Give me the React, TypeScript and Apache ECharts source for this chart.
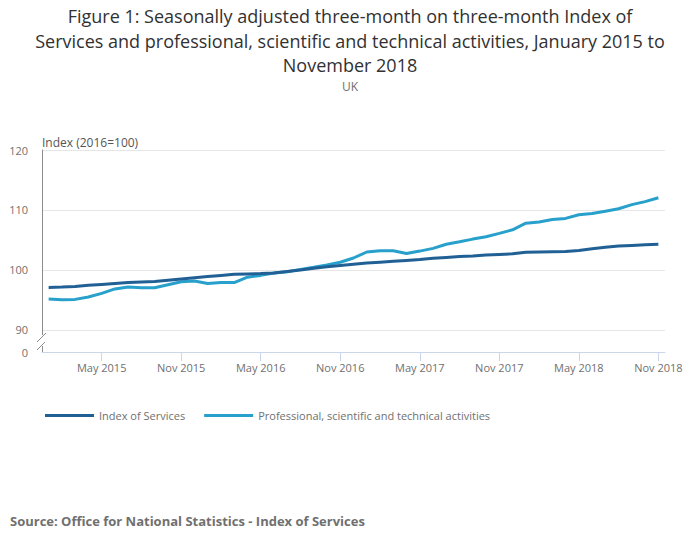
import React, { useEffect, useRef } from "react";
import * as echarts from "echarts";

const MONTHS = ["Jan", "Feb", "Mar", "Apr", "May", "Jun", "Jul", "Aug", "Sep", "Oct", "Nov", "Dec"];
const categories: string[] = [];
for (let y = 2015; y <= 2018; y++) {
  for (let m = 0; m < 12; m++) {
    if (y === 2018 && m > 10) break;
    categories.push(`${MONTHS[m]} ${y}`);
  }
}

const xTickLabels = ["May 2015", "Nov 2015", "May 2016", "Nov 2016", "May 2017", "Nov 2017", "May 2018", "Nov 2018"];

const indexOfServices = [
  97.1, 97.15, 97.25, 97.45, 97.6, 97.75, 97.9, 98.0, 98.1, 98.3, 98.5, 98.7,
  98.9, 99.1, 99.3, 99.35, 99.4, 99.5, 99.75, 100.0, 100.3, 100.55, 100.75, 100.95,
  101.15, 101.3, 101.45, 101.6, 101.75, 101.95, 102.1, 102.25, 102.35, 102.5, 102.6, 102.7,
  102.95, 103.0, 103.05, 103.1, 103.25, 103.55, 103.8, 104.0, 104.1, 104.2, 104.3,
];

const professional = [
  95.15, 95.05, 95.1, 95.5, 96.1, 96.85, 97.15, 97.05, 97.05, 97.55, 98.05, 98.15,
  97.75, 97.9, 97.9, 98.8, 99.1, 99.5, 99.7, 100.1, 100.45, 100.85, 101.3, 102.0,
  103.0, 103.2, 103.2, 102.75, 103.15, 103.6, 104.3, 104.7, 105.15, 105.55, 106.1, 106.7,
  107.8, 108.0, 108.4, 108.6, 109.2, 109.4, 109.8, 110.2, 110.9, 111.4, 112.05,
];

const seriesNames = ["Index of Services", "Professional, scientific and technical activities"];
const seriesColors = ["#206095", "#27a0cc"];

const TITLE_LINES = [
  "Figure 1: Seasonally adjusted three-month on three-month Index of",
  "Services and professional, scientific and technical activities, January 2015 to",
  "November 2018",
];
const SUBTITLE = "UK";
const SOURCE = "Source: Office for National Statistics - Index of Services";
const Y_NAME = "Index (2016=100)";
const Y_MIN = 86.333;
const Y_MAX = 120;

const FONT = "'Open Sans', sans-serif";

export default function App() {
  const ref = useRef<HTMLDivElement>(null);

  useEffect(() => {
    if (!ref.current) return;
    const chart = echarts.init(ref.current, undefined, { renderer: "svg" });
    const isTick = (_i: number, v: string) => xTickLabels.includes(v);
    const titleTops = [2, 26.5, 51];
    chart.setOption({
      animation: false,
      textStyle: { fontFamily: FONT },
      title: [
        ...TITLE_LINES.map((t, i) => ({
          text: t,
          left: "center",
          top: titleTops[i],
          textStyle: { fontSize: 18, fontWeight: "normal", color: "#323132", fontFamily: FONT },
        })),
        {
          text: SUBTITLE,
          left: "center",
          top: 75,
          textStyle: { fontSize: 12, fontWeight: "normal", color: "#707070", fontFamily: FONT },
        },
        {
          text: SOURCE,
          left: 5,
          top: 509,
          textStyle: { fontSize: 13, fontWeight: "bold", color: "#707070", fontFamily: FONT },
        },
      ],
      legend: {
        left: 40,
        top: 405,
        icon: "rect",
        itemWidth: 49,
        itemHeight: 3,
        itemGap: 19,
        textStyle: { fontSize: 11, color: "#707070", fontFamily: FONT },
        data: seriesNames,
      },
      grid: { left: 42, right: 35, top: 150, bottom: 197, containLabel: false },
      xAxis: {
        type: "category",
        data: categories,
        boundaryGap: true,
        axisLine: { show: true, lineStyle: { color: "#ccd6eb", width: 1 } },
        axisTick: { show: true, alignWithLabel: true, interval: isTick, length: 9, lineStyle: { color: "#ccd6eb" } },
        axisLabel: { interval: isTick, color: "#707070", fontSize: 11, margin: 10, fontFamily: FONT },
        splitLine: { show: false },
      },
      yAxis: {
        type: "value",
        min: Y_MIN,
        max: Y_MAX,
        splitNumber: 3,
        name: Y_NAME,
        nameLocation: "end",
        nameGap: 8,
        nameTextStyle: { align: "left", verticalAlign: "middle", color: "#555", fontSize: 12, fontFamily: FONT },
        axisLine: { show: true, lineStyle: { color: "#8c8c8c", width: 1 } },
        axisTick: { show: false },
        axisLabel: {
          color: "#707070",
          fontSize: 11,
          margin: 14,
          fontFamily: FONT,
          formatter: (v: number) => (v < 89 ? "0" : String(Math.round(v))),
        },
        splitLine: { show: true, showMinLine: false, lineStyle: { color: "#e6e6e6", width: 1 } },
      },
      series: [
        {
          name: seriesNames[0],
          type: "line",
          data: indexOfServices,
          showSymbol: false,
          symbol: "none",
          lineStyle: { color: seriesColors[0], width: 3 },
          itemStyle: { color: seriesColors[0] },
          z: 3,
        },
        {
          name: seriesNames[1],
          type: "line",
          data: professional,
          showSymbol: false,
          symbol: "none",
          lineStyle: { color: seriesColors[1], width: 3 },
          itemStyle: { color: seriesColors[1] },
          z: 2,
        },
      ],
      graphic: [
        { type: "rect", z: 100, shape: { x: 38, y: 335, width: 8, height: 11 }, style: { fill: "#fff" } },
        { type: "line", z: 101, shape: { x1: 37, y1: 342, x2: 46, y2: 333 }, style: { stroke: "#8c8c8c", lineWidth: 1 } },
        { type: "line", z: 101, shape: { x1: 37, y1: 350, x2: 45, y2: 342 }, style: { stroke: "#8c8c8c", lineWidth: 1 } },
      ],
    });
    return () => chart.dispose();
  }, []);

  return (
    <div
      ref={ref}
      style={{ position: "absolute", left: 0, top: 0, width: 700, height: 549, background: "#fff" }}
    />
  );
}
